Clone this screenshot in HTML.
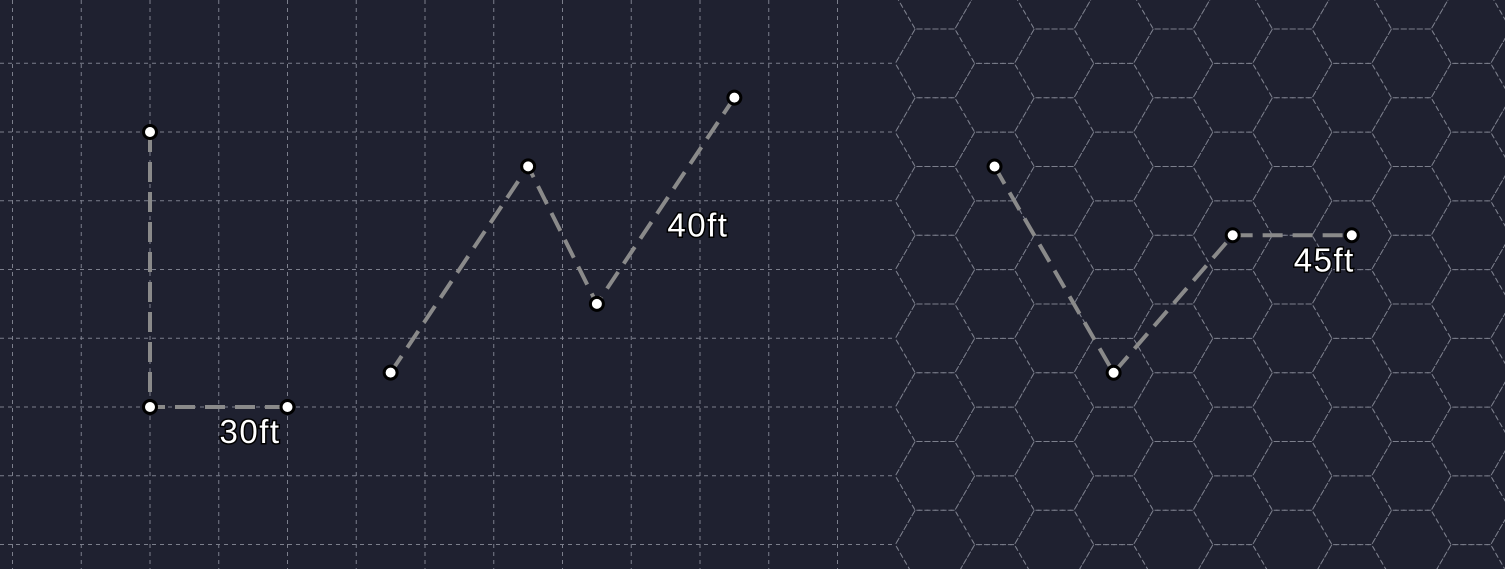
<!DOCTYPE html>
<html><head><meta charset="utf-8"><style>
html,body{margin:0;padding:0;background:#1f2130;width:1505px;height:569px;overflow:hidden}
svg{display:block;position:absolute;left:0;top:0}
text{font-family:"Liberation Sans",sans-serif;font-size:33px;letter-spacing:1.5px;fill:#fff;stroke:#000;stroke-width:3px;paint-order:stroke;}
</style></head><body>
<svg id="map" width="1505" height="569" viewBox="0 0 1505 569">
<defs>
<clipPath id="sqClip"><rect x="0" y="0" width="895" height="569"/></clipPath>
<clipPath id="hxClip"><rect x="895" y="0" width="610" height="569"/></clipPath>
</defs>
<rect width="1505" height="569" fill="#1f2130"/>
<g id="sqGrid" clip-path="url(#sqClip)" stroke="#7c7f8c" stroke-width="1" stroke-dasharray="4 4"></g>
<g id="hxGrid" clip-path="url(#hxClip)" stroke="#7c7f8c" stroke-width="1" stroke-dasharray="4 4" fill="none"></g>
<g id="paths"></g>
</svg>
<script>
// square-grid path data (grid coordinates: column, row)
const sqPathA_cols = [2, 2, 4];
const sqPathA_rows = [2, 6, 6];
const sqPathB_cols = [5.5, 7.5, 8.5, 10.5];
const sqPathB_rows = [5.5, 2.5, 4.5, 1.5];
// hex-grid path data (hex column, hex row)
const hexPath_cols = [1, 3, 5, 7];
const hexPath_rows = [1, 4, 2, 2];
const labels = ["30ft", "40ft", "45ft"];

const NS = "http://www.w3.org/2000/svg";
const CELL = 68.75, SQX0 = 12.5, SQY0 = -5.5;
const S = CELL / Math.sqrt(3), HX0 = 935, HY0 = 63.4;
const sqX = c => SQX0 + CELL * c;
const sqY = r => SQY0 + CELL * r;
const hxX = c => HX0 + 1.5 * S * c;
const hxY = (c, r) => HY0 + CELL * r + (((c % 2) + 2) % 2 ? CELL / 2 : 0);

const sq = document.getElementById('sqGrid');
for (let i = 0; i < 14; i++) {
  const l = document.createElementNS(NS, 'line');
  l.setAttribute('x1', sqX(i)); l.setAttribute('x2', sqX(i));
  l.setAttribute('y1', 0); l.setAttribute('y2', 569);
  
  
  sq.appendChild(l);
}
for (let j = 0; j < 10; j++) {
  const l = document.createElementNS(NS, 'line');
  l.setAttribute('y1', sqY(j)); l.setAttribute('y2', sqY(j));
  l.setAttribute('x1', 0); l.setAttribute('x2', 900);
  
  
  sq.appendChild(l);
}
const hx = document.getElementById('hxGrid');
for (let c = -1; c < 12; c++) {
  for (let r = -2; r < 10; r++) {
    const cx = hxX(c), cy = hxY(c, r);
    const pts = [];
    for (let k = 0; k < 6; k++) {
      const a = Math.PI / 3 * k;
      pts.push((cx + S * Math.cos(a)).toFixed(2) + ',' + (cy + S * Math.sin(a)).toFixed(2));
    }
    const p = document.createElementNS(NS, 'polygon');
    p.setAttribute('points', pts.join(' '));
    
    
    hx.appendChild(p);
  }
}

const g = document.getElementById('paths');
function drawPath(xs, ys, name, label, lx, ly) {
  const grp = document.createElementNS(NS, 'g');
  
  
  const pl = document.createElementNS(NS, 'polyline');
  pl.setAttribute('points', xs.map((x, i) => x + ',' + ys[i]).join(' '));
  pl.setAttribute('fill', 'none');
  pl.setAttribute('stroke', '#8a8a8a');
  pl.setAttribute('stroke-width', '4');
  pl.setAttribute('stroke-dasharray', '20 10');
  
  
  grp.appendChild(pl);
  xs.forEach((x, i) => {
    const c = document.createElementNS(NS, 'circle');
    c.setAttribute('cx', x); c.setAttribute('cy', ys[i]); c.setAttribute('r', 6.5);
    c.setAttribute('fill', '#fff'); c.setAttribute('stroke', '#000'); c.setAttribute('stroke-width', 3);
    
    
    grp.appendChild(c);
  });
  const t = document.createElementNS(NS, 'text');
  t.setAttribute('x', lx); t.setAttribute('y', ly);
  t.textContent = label;
  
  
  grp.appendChild(t);
  g.appendChild(grp);
}
{
  const xs = sqPathA_cols.map(sqX), ys = sqPathA_rows.map(sqY);
  drawPath(xs, ys, 'path-30ft', labels[0], xs[xs.length-1] - 68, ys[ys.length-1] + 36);
}
{
  const xs = sqPathB_cols.map(sqX), ys = sqPathB_rows.map(sqY);
  drawPath(xs, ys, 'path-40ft', labels[1], xs[xs.length-1] - 67, ys[ys.length-1] + 139);
}
{
  const xs = hexPath_cols.map(hxX), ys = hexPath_cols.map((c, i) => hxY(c, hexPath_rows[i]));
  drawPath(xs, ys, 'path-45ft', labels[2], xs[xs.length-1] - 58, ys[ys.length-1] + 36);
}
</script>
</body></html>
